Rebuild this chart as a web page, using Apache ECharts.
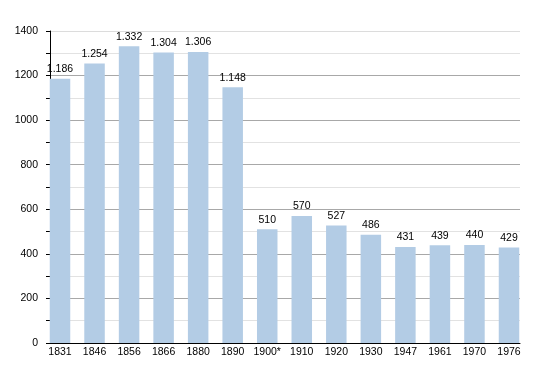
<!DOCTYPE html>
<html>
<head>
<meta charset="utf-8">
<script src="https://cdn.jsdelivr.net/npm/echarts@6/dist/echarts.min.js"></script>
<style>html,body{margin:0;padding:0;background:#fff}#c{width:550px;height:373px}</style>
</head>
<body>
<div id="c"></div>
<script>
var years = ['1831','1846','1856','1866','1880','1890','1900*','1910','1920','1930','1947','1961','1970','1976'];
var population = [1186,1254,1332,1304,1306,1148,510,570,527,486,431,439,440,429];
var yTicks = [0,200,400,600,800,1000,1200,1400];

var font = 'Liberation Sans, Arial, sans-serif';
function fmt(v){ v = Math.round(v); return v >= 1000 ? Math.floor(v/1000) + '.' + String(v%1000).padStart(3,'0') : String(v); }

var chart = echarts.init(document.getElementById('c'), null, {renderer:'canvas'});
chart.setOption({
  animation: false,
  backgroundColor: '#ffffff',
  grid: [
    {left: 50, right: 30, top: 31, bottom: 30, containLabel: false},
    {left: 60, right: 41, top: 31, bottom: 30, containLabel: false}
  ],
  xAxis: [
    {type:'category', gridIndex:0, data: years, boundaryGap: true,
     axisLine:{show:true, lineStyle:{color:'#000', width:1}},
     axisTick:{show:false}, axisLabel:{show:false}, splitLine:{show:false}},
    {type:'category', gridIndex:1, data: years, boundaryGap: false,
     axisLine:{show:false}, axisTick:{show:false},
     axisLabel:{show:true, interval:0, margin:4, color:'#000', fontSize:10.5, fontFamily:font},
     splitLine:{show:false}}
  ],
  yAxis: [
    {type:'value', gridIndex:0, min: yTicks[0], max: yTicks[yTicks.length-1], interval: 200,
     axisLine:{show:true, lineStyle:{color:'#000', width:1}},
     axisTick:{show:true, length:4, lineStyle:{color:'#000'}},
     minorTick:{show:true, splitNumber:2, length:4, lineStyle:{color:'#000'}},
     axisLabel:{show:true, margin:12, color:'#000', fontSize:10.5, fontFamily:font,
       formatter: function(v){ return String(v); }},
     splitLine:{show:true, lineStyle:{color:['#a8a8a8','#a8a8a8','#a8a8a8','#a8a8a8','#a8a8a8','#a8a8a8','#a8a8a8','#dcdcdc'], width:1}},
     minorSplitLine:{show:true, lineStyle:{color:'#e2e2e2', width:1}}},
    {type:'value', gridIndex:1, min: yTicks[0], max: yTicks[yTicks.length-1], show:false,
     splitLine:{show:false}}
  ],
  series: [{
    type:'bar', xAxisIndex:1, yAxisIndex:1, data: population,
    barWidth: 20.5, clip: false,
    itemStyle:{color:'#b3cce5'},
    label:{show:true, position:'top', distance:4, color:'#000', fontSize:10.5, fontFamily:font,
      formatter: function(p){ return fmt(p.value); }}
  }]
});
</script>
</body>
</html>
